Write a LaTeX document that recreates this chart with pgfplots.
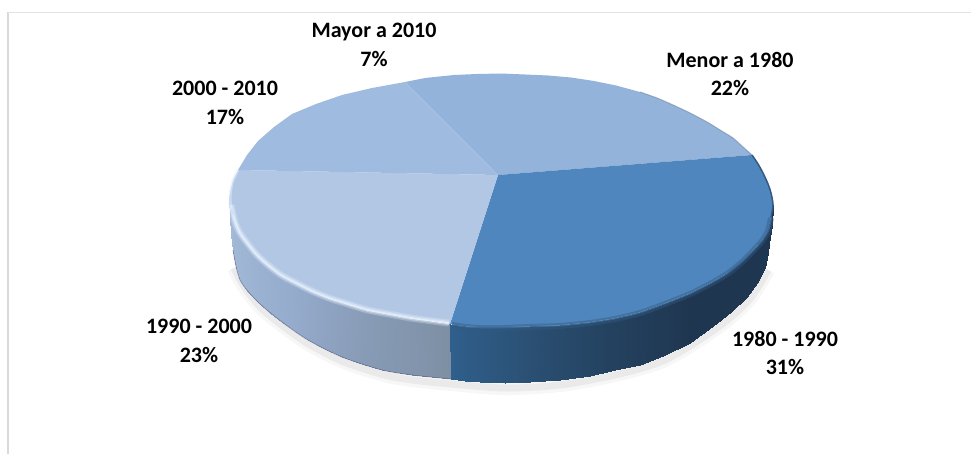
\documentclass[border=0pt]{standalone}
\usepackage{pgfplots}
\pgfplotsset{compat=1.18}
\usepackage{fontspec}
\setmainfont{Carlito}
\definecolor{faceMenor}{RGB}{147,179,219}
\definecolor{faceA}{RGB}{79,134,189}
\definecolor{faceB}{RGB}{178,199,228}
\definecolor{faceC}{RGB}{159,188,224}
\definecolor{edgeA}{RGB}{50,90,130}
\definecolor{glow}{RGB}{230,240,252}
\pgfplotsset{
  colormap={wallL}{rgb255=(165,187,217) rgb255=(150,172,205) rgb255=(135,155,182) rgb255=(126,143,163)},
  colormap={wallR}{rgb255=(47,95,140) rgb255=(44,83,120) rgb255=(36,66,96) rgb255=(31,54,80) rgb255=(31,54,82)},
}
\tikzset{lab/.style={align=center, inner sep=0pt, font=\fontsize{22bp}{28.5bp}\selectfont\bfseries}}
\begin{document}
\begin{tikzpicture}
\begin{axis}[
    scale only axis, width=977bp, height=454bp,
    xmin=0, xmax=977, ymin=0, ymax=454, y dir=reverse,
    hide axis, point meta min=0, point meta max=1,
]
% page background, keeps the picture at full size
\addplot[fill=white, draw=none] coordinates {(0,0) (977,0) (977,454) (0,454)} -- cycle;

% frame
\addplot[color=black!15, line width=2bp] coordinates {(8,454) (8,12)};
\addplot[color=black!11, line width=1bp] coordinates {(8,12.5) (971,12.5)};

% soft shadow under the wall
\addplot[smooth, color=black, opacity=0.03, line width=14bp] coordinates {(234,268) (243,285) (260,307) (284,327) (310,345) (344,362) (384,375) (412,380) (451,384) (505,388) (560,385) (615,375) (665,360) (717,328) (749,300) (768,270)};
\addplot[smooth, color=black, opacity=0.05, line width=7bp] coordinates {(234,268) (243,285) (260,307) (284,327) (310,345) (344,362) (384,375) (412,380) (451,384) (505,388) (560,385) (615,375) (665,360) (717,328) (749,300) (768,270)};

% walls
\addplot[surf, shader=interp, colormap name=wallL, mesh/cols=2, point meta=\thisrow{c}] table {
x y c
229 198 0
231 235 0
230 209 0.04
233 250 0.04
233 222 0.08
235 263 0.08
238 233 0.115
240 280 0.115
246 244 0.15
248 292 0.15
255 255 0.2
258 302 0.2
266 265 0.25
270 313 0.25
279 275 0.3
282 322 0.3
294 283 0.35
295 331 0.35
310 291 0.42
308 340 0.42
327 298 0.5
325 349 0.5
346 304 0.57
342 357 0.57
366 310 0.65
362 364 0.65
387 314 0.73
382 370 0.73
409 318 0.82
412 375 0.82
431 321 0.91
432 377 0.91
450 324 1
451 379 1
};
\addplot[surf, shader=interp, colormap name=wallR, mesh/cols=2, point meta=\thisrow{c}] table {
x y c
450 324 0
451 379 0
465 326 0.06
465 381 0.06
480 327 0.12
480 382 0.12
505 327 0.21
505 383 0.21
530 326 0.3
530 382 0.3
560 325 0.38
560 380 0.38
590 322 0.45
590 376 0.45
615 318 0.52
615 370 0.52
640 312 0.6
640 365 0.6
665 303 0.67
665 355 0.67
690 293 0.75
690 343 0.75
710 283 0.81
717 323 0.81
727 273 0.85
732 311 0.85
742 259 0.89
747 297 0.89
753 250 0.93
757 283 0.93
762 240 0.96
765 268 0.96
768 230 0.98
768 253 0.98
771 217 0.99
769 243 0.99
773 205 1
772 225 1
};

% bottom edge of the wall
\addplot[smooth, color=black!55!blue!35!gray, line width=0.8bp, opacity=0.5] coordinates {(233,250) (240,280) (258,302) (282,322) (308,340) (342,357) (382,370) (412,375) (451,379)};

% top faces
\addplot[fill=faceMenor, draw=none] coordinates {(498,175) (405,82) (425,78) (454,75) (477,74) (501,73.5) (525,74.5) (548,75.5) (571,77.5) (594,81) (616,85.5) (640,92) (657,98) (673,105) (690,113) (707,122) (720,130) (733,138) (743,147) (752,155)} -- cycle;
\addplot[fill=faceA, draw=none] coordinates {(498,175) (752,155) (758,164) (763,173) (768,184) (771,193) (773,205) (771,217) (768,230) (762,240) (753,250) (742,261) (727,273) (710,283) (690,293) (665,303) (640,312) (615,318) (590,322) (560,325) (530,326) (505,327) (480,327) (465,326) (450,324)} -- cycle;
\addplot[fill=faceB, draw=none] coordinates {(498,175) (450,324) (431,321) (409,318) (387,314) (366,310) (346,304) (327,298) (310,291) (294,283) (279,275) (266,265) (255,255) (246,244) (238,233) (233,222) (230,209) (229,198) (231,188) (233,180) (238,170)} -- cycle;
\addplot[fill=faceC, draw=none] coordinates {(498,175) (238,170) (247,155) (258,141) (274,127) (292,114) (316,104) (342,95) (372,88) (405,82)} -- cycle;

% bevel along the rim, left part light, right part dark
\addplot[smooth, color=glow, line width=7bp, opacity=0.3] coordinates {(231,205) (235,222) (240,233) (248,244) (257,255) (268,265) (281,275) (296,283) (312,291) (329,298) (348,304) (368,310) (389,314) (411,318) (433,321) (449,323)};
\addplot[smooth, color=glow, line width=4bp, opacity=0.45] coordinates {(231,205) (235,222) (240,233) (248,244) (257,255) (268,265) (281,275) (296,283) (312,291) (329,298) (348,304) (368,310) (389,314) (411,318) (433,321) (449,323)};
\addplot[smooth, color=glow, line width=1.5bp, opacity=0.8] coordinates {(233,215) (240,233) (248,244) (257,255) (268,265) (281,275) (296,283) (312,291) (329,298) (348,304) (368,310) (389,314) (411,318) (433,321) (449,323)};
\addplot[smooth, color=glow, line width=3bp, opacity=0.5] coordinates {(238,170) (233,180) (231,188) (230,198) (231,209)};
\addplot[smooth, color=edgeA, line width=6bp, opacity=0.45] coordinates {(452,325) (465,327) (480,328) (505,328) (530,327) (560,326) (590,323) (615,319) (640,313) (665,304) (690,294) (710,284) (727,274) (742,262) (753,251) (762,241) (768,231) (771,218)};
\addplot[smooth, color=faceA!85!black, line width=2.5bp, opacity=0.7] coordinates {(452,324) (465,326) (480,327) (505,327) (530,326) (560,325) (590,322) (615,318) (640,312) (665,303) (690,293) (710,283) (727,273) (742,261) (753,250) (762,240) (768,230) (771,217)};
\addplot[smooth, color=edgeA, line width=1.5bp] coordinates {(752,155) (758,164) (763,173) (768,184) (771,193) (773,205) (771,217)};
\addplot[smooth, color=faceMenor!75!black, line width=1bp, opacity=0.6] coordinates {(640,92) (657,98) (673,105) (690,113) (707,122) (720,130) (733,138) (743,147) (752,155)};

% labels
\node[lab] at (axis cs:374,45) {Mayor a 2010\\7\%};
\node[lab] at (axis cs:730,74) {Menor a 1980\\22\%};
\node[lab] at (axis cs:225,103) {2000 - 2010\\17\%};
\node[lab] at (axis cs:199,341) {1990 - 2000\\23\%};
\node[lab] at (axis cs:785,353) {1980 - 1990\\31\%};
\end{axis}
\end{tikzpicture}
\end{document}
